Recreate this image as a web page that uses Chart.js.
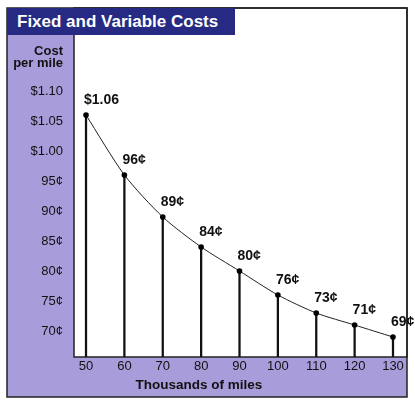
<!DOCTYPE html>
<html>
<head>
<meta charset="utf-8">
<script src="https://cdn.jsdelivr.net/npm/chart.js@4/dist/chart.umd.min.js"></script>
<style>
  html, body { margin: 0; padding: 0; background: #ffffff; }
  #wrap { position: relative; width: 415px; height: 406px; overflow: hidden; font-family: "Liberation Sans", Arial, sans-serif; }
  canvas { position: absolute; left: 0; top: 0; }
  #title { position: absolute; left: 7px; top: 8px; width: 228px; height: 27px; background: #262a82; color: #ffffff;
           font-weight: bold; font-size: 17px; line-height: 27px; padding-left: 10px; box-sizing: border-box; white-space: nowrap; }
  #ytitle { position: absolute; left: 7px; top: 45px; width: 56px; text-align: right; font-weight: bold; font-size: 13px;
            line-height: 12px; color: #111111; }
  #xtitle { position: absolute; left: 135px; top: 377px; width: 128px; text-align: center; font-weight: bold; font-size: 13.5px;
            line-height: 16px; color: #111111; white-space: nowrap; }
</style>
</head>
<body>
<div id="wrap">
  <canvas id="c" width="415" height="406"></canvas>
  <div id="title">Fixed and Variable Costs</div>
  <div id="ytitle">Cost<br>per mile</div>
  <div id="xtitle">Thousands of miles</div>
</div>
<script>
// ---- data ----
const miles = [50, 60, 70, 80, 90, 100, 110, 120, 130];
const costPerMile = [1.06, 0.96, 0.89, 0.84, 0.80, 0.76, 0.73, 0.71, 0.69];
const pointLabels = ["$1.06", "96¢", "89¢", "84¢", "80¢", "76¢", "73¢", "71¢", "69¢"];
const yTickValues = [0.70, 0.75, 0.80, 0.85, 0.90, 0.95, 1.00, 1.05, 1.10];
const xTickValues = [50, 60, 70, 80, 90, 100, 110, 120, 130];

// ---- axis ranges ----
const Y_MIN = 0.6567, Y_MAX = 1.1933;
const X_MIN = 46.87, X_MAX = 133.65;

function fmtCost(v) {
  if (v >= 0.999) return "$" + v.toFixed(2);
  return Math.round(v * 100) + "¢";
}

const bgPlugin = {
  id: 'bg',
  beforeDraw(chart) {
    const ctx = chart.ctx;
    const a = chart.chartArea;
    ctx.save();
    ctx.fillStyle = '#a99cda';
    ctx.fillRect(7, 8, 400, 389);
    ctx.fillStyle = '#ffffff';
    ctx.fillRect(a.left, 8, a.right - a.left, a.bottom - 8);
    ctx.strokeStyle = '#222222';
    ctx.lineWidth = 1.5;
    ctx.strokeRect(a.left, 8, a.right - a.left, a.bottom - 8);
    ctx.strokeRect(7, 8, 400, 389);
    ctx.restore();
  }
};

const labelPlugin = {
  id: 'ptlabels',
  afterDatasetsDraw(chart) {
    const meta = chart.getDatasetMeta(1);
    const ctx = chart.ctx;
    ctx.save();
    ctx.font = 'bold 14px "Liberation Sans", Arial, sans-serif';
    ctx.fillStyle = '#111111';
    ctx.textAlign = 'left';
    ctx.textBaseline = 'middle';
    meta.data.forEach((pt, i) => {
      ctx.fillText(pointLabels[i], pt.x - 2, pt.y - 15);
    });
    ctx.restore();
  }
};

new Chart(document.getElementById('c'), {
  data: {
    datasets: [
      {
        type: 'bar',
        data: miles.map((m, i) => ({ x: m, y: [Y_MIN, costPerMile[i]] })),
        backgroundColor: '#111111',
        barThickness: 1.6,
        order: 2
      },
      {
        type: 'line',
        data: miles.map((m, i) => ({ x: m, y: costPerMile[i] })),
        borderColor: '#222222',
        borderWidth: 1,
        tension: 0.25,
        pointRadius: 2.8,
        pointBackgroundColor: '#000000',
        pointBorderWidth: 0,
        order: 1
      }
    ]
  },
  options: {
    responsive: false,
    animation: false,
    layout: { padding: { left: 7, right: 8, top: 35, bottom: 9 } },
    plugins: { legend: { display: false }, tooltip: { enabled: false } },
    scales: {
      x: {
        type: 'linear',
        offset: false,
        min: X_MIN, max: X_MAX,
        grid: { display: false, drawTicks: false },
        border: { display: false },
        afterBuildTicks(scale) { scale.ticks = xTickValues.map(v => ({ value: v })); },
        afterFit(scale) { scale.height = 40; },
        ticks: {
          color: '#111111', padding: 2,
          font: { family: '"Liberation Sans", Arial, sans-serif', size: 13 },
          maxRotation: 0, autoSkip: false,
          callback: v => String(v)
        }
      },
      y: {
        type: 'linear',
        min: Y_MIN, max: Y_MAX,
        grid: { display: false, drawTicks: false },
        border: { display: false },
        afterBuildTicks(scale) { scale.ticks = yTickValues.map(v => ({ value: v })); },
        afterFit(scale) { scale.width = 67; },
        ticks: {
          color: '#111111', padding: 11,
          font: { family: '"Liberation Sans", Arial, sans-serif', size: 13 },
          autoSkip: false,
          callback: v => fmtCost(v)
        }
      }
    }
  },
  plugins: [bgPlugin, labelPlugin]
});
</script>
</body>
</html>
